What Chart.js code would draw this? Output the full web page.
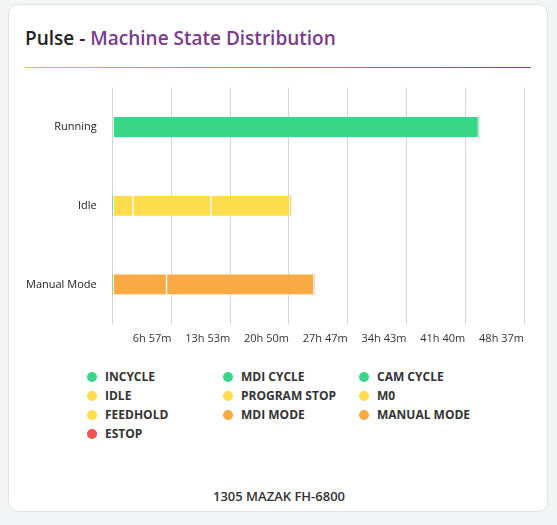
<!DOCTYPE html>
<html><head><meta charset="utf-8">
<script src="https://cdn.jsdelivr.net/npm/chart.js@4"></script>
<style>
body{margin:0;background:#f3f4f6;font-family:"Open Sans",sans-serif;}
.card{position:absolute;left:8px;top:4px;width:540px;height:508px;background:#fff;border:1px solid #dfe3e8;border-radius:10px;box-sizing:border-box;}
.title{position:absolute;left:16px;top:20px;font-size:19px;font-weight:600;color:#222;}
.title span{color:#7b3a8c;}
.rule{position:absolute;left:16px;top:62px;width:506px;height:1px;background:linear-gradient(to right,#d8c43c,#8a3d92);}
.cw{position:absolute;left:9px;top:68px;width:516px;height:280px;}
#legend{position:absolute;left:78px;top:363px;display:grid;grid-template-columns:136px 136px 136px;row-gap:2px;font-size:12px;font-weight:700;color:#333;}
#legend div{display:flex;align-items:center;height:17px;}
#legend i{display:inline-block;width:10px;height:10px;border-radius:50%;margin-right:8px;}
.foot{position:absolute;left:0;width:540px;top:482px;text-align:center;font-size:13px;font-weight:600;color:#333;}
</style></head><body>
<div class="card">
<div class="title">Pulse - <span>Machine State Distribution</span></div>
<div class="rule"></div>
<div class="cw"><canvas id="c"></canvas></div>
<div id="legend"></div>
<div class="foot">1305 MAZAK FH-6800</div>
</div>
<script>
const categories=["Running","Idle","Manual Mode"];
const states=["INCYCLE","MDI CYCLE","CAM CYCLE","IDLE","PROGRAM STOP","M0","FEEDHOLD","MDI MODE","MANUAL MODE","ESTOP"];
const colors=["#3ad688","#3ad688","#3ad688","#fddc4d","#fddc4d","#fddc4d","#fddc4d","#f9aa44","#f9aa44","#ef5350"];
const incycle=[2593,0,0],mdiCycle=[0,0,0],camCycle=[0,0,0];
const idle=[0,144,0],programStop=[0,553,0],m0=[0,560,0],feedhold=[0,0,0];
const mdiMode=[0,0,382],manualMode=[0,0,1045],estop=[0,0,0];
const values=[incycle,mdiCycle,camCycle,idle,programStop,m0,feedhold,mdiMode,manualMode,estop];
const step=2500/6, maxV=step*7;
function fmt(v){const m=Math.round(v);return Math.floor(m/60)+"h "+(m%60)+"m";}
const lg=document.getElementById('legend');
states.forEach((s,i)=>{const d=document.createElement('div');d.innerHTML='<i style="background:'+colors[i]+'"></i>'+s;lg.appendChild(d);});
new Chart(document.getElementById('c'),{type:'bar',
data:{labels:categories,datasets:states.map((s,i)=>({label:s,data:values[i],backgroundColor:colors[i],borderColor:'#fff',borderWidth:{left:1,right:1},borderSkipped:false,barThickness:20}))},
options:{indexAxis:'y',responsive:true,maintainAspectRatio:false,animation:false,
layout:{padding:{left:0,right:10,top:10}},
plugins:{legend:{display:false},tooltip:{enabled:false}},
scales:{x:{stacked:true,min:0,max:maxV,border:{display:false},grid:{color:'#d4d4d4',drawTicks:false},
ticks:{stepSize:step,align:'end',padding:8,color:'#333',font:{size:11,family:'Open Sans'},callback:v=>v===0?'':fmt(v)}},
y:{stacked:true,grid:{display:false},border:{display:false},ticks:{color:'#222',font:{size:11,family:'Open Sans'},padding:8}}}}});
</script></body></html>
